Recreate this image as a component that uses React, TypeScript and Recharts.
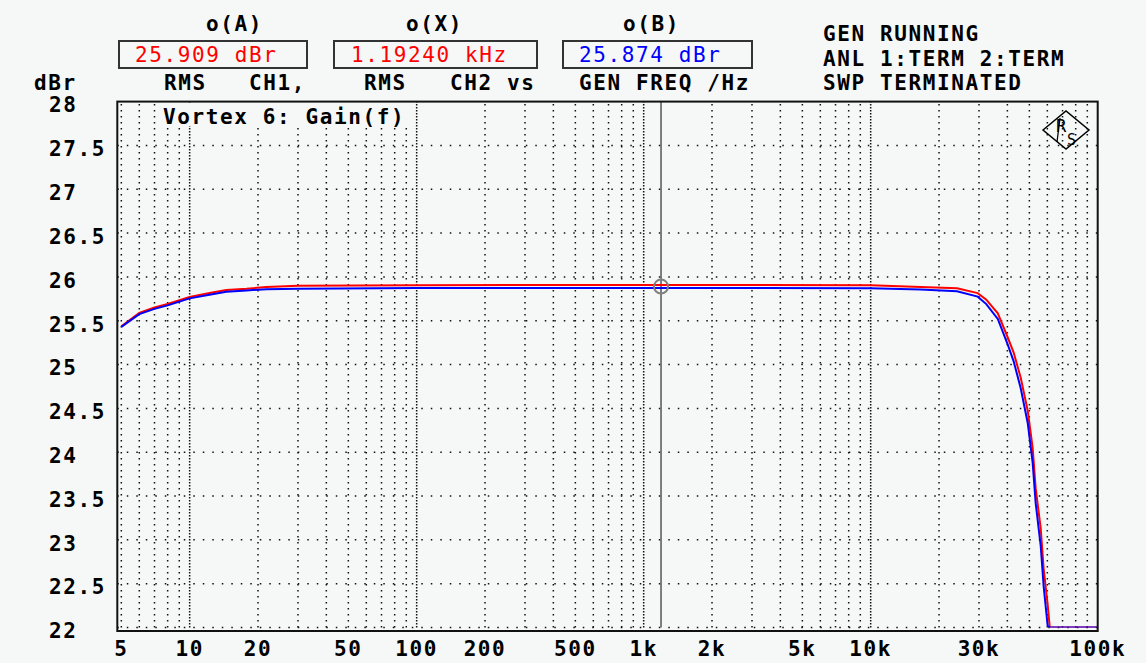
import React from 'react';
import { LineChart, Line, XAxis, YAxis, ReferenceLine, ReferenceDot } from 'recharts';

// ---- data ----
const freqHz = [5, 6, 7, 8, 10, 12.4, 14.5, 17.8, 21.8, 30, 100, 1192.4, 10000, 16600, 24000, 29600, 32300, 36300, 40000, 42600, 45800, 49200, 51700, 53300, 56100, 57800, 60200, 61500, 100000];
const gainCh1 = [25.435, 25.59, 25.65, 25.69, 25.77, 25.82, 25.85, 25.865, 25.885, 25.9, 25.905, 25.909, 25.905, 25.885, 25.87, 25.815, 25.74, 25.585, 25.32, 25.14, 24.85, 24.47, 24.05, 23.59, 23.13, 22.67, 22.26, 22.0, 22.0];
const gainCh2 = [25.43, 25.575, 25.635, 25.675, 25.755, 25.8, 25.83, 25.845, 25.86, 25.865, 25.872, 25.874, 25.87, 25.855, 25.835, 25.775, 25.69, 25.52, 25.24, 25.04, 24.73, 24.33, 23.88, 23.42, 22.93, 22.47, 22.02, 22.0, 22.0];

const xTickValues = [5, 10, 20, 50, 100, 200, 500, 1000, 2000, 5000, 10000, 30000, 100000];
const xTickLabels = ['5', '10', '20', '50', '100', '200', '500', '1k', '2k', '5k', '10k', '30k', '100k'];
const yTickValues = [22, 22.5, 23, 23.5, 24, 24.5, 25, 25.5, 26, 26.5, 27, 27.5, 28];
const yTickLabels = ['22', '22.5', '23', '23.5', '24', '24.5', '25', '25.5', '26', '26.5', '27', '27.5', '28'];

const gridMinorHz = [5, 6, 7, 8, 9, 20, 30, 40, 50, 60, 70, 80, 90, 200, 300, 400, 500, 600, 700, 800, 900, 2000, 3000, 4000, 5000, 6000, 7000, 8000, 9000, 20000, 30000, 40000, 50000, 60000, 70000, 80000, 90000];
const gridDecadeHz = [10, 100, 1000, 10000];
const gridDb = [22, 22.5, 23, 23.5, 24, 24.5, 25, 25.5, 26, 26.5, 27, 27.5];

const cursorHz = 1192.4;
const cursorDb = 25.89;

const readingA = '25.909 dBr';
const readingX = '1.19240 kHz';
const readingB = '25.874 dBr';

const data = freqHz.map((f, i) => ({ f, ch1: gainCh1[i], ch2: gainCh2[i] }));

const FONT = '"DejaVu Sans Mono", "Liberation Mono", monospace';
const BG = '#f5f8f6';
const txt = { fontFamily: FONT, fontSize: 21, fontWeight: 700 as const, letterSpacing: 1.6, fill: '#000' };

const XTick = (props: any) => {
  const { x, payload } = props;
  const i = xTickValues.indexOf(payload.value);
  return (
    <text x={x} y={655.5} textAnchor="middle" style={txt}>
      {i >= 0 ? xTickLabels[i] : ''}
    </text>
  );
};

const YTick = (props: any) => {
  const { y, payload } = props;
  const i = yTickValues.indexOf(payload.value);
  return (
    <text x={49} y={y + 10.8} textAnchor="start" style={txt}>
      {i >= 0 ? yTickLabels[i] : ''}
    </text>
  );
};

const CursorMark = (props: any) => {
  const { cx, cy } = props;
  return (
    <g>
      <circle cx={cx} cy={cy} r={7} fill="none" stroke="#808080" strokeWidth={2} />
    </g>
  );
};

export default function App() {
  return (
    <div style={{ position: 'absolute', left: 0, top: 0, width: 1146, height: 663, background: BG, overflow: 'hidden' }}>
      <LineChart
        width={1146}
        height={663}
        data={data}
        margin={{ top: 101.6, right: 48.3, left: 0, bottom: 0 }}
      >
        <XAxis
          dataKey="f"
          type="number"
          scale="log"
          domain={[4.8, 100000]}
          allowDataOverflow
          ticks={xTickValues}
          interval={0}
          tick={<XTick />}
          axisLine={false}
          tickLine={false}
          height={35.5}
        />
        <YAxis
          type="number"
          domain={[22, 28]}
          allowDataOverflow
          ticks={yTickValues}
          interval={0}
          tick={<YTick />}
          axisLine={false}
          tickLine={false}
          width={117.3}
        />
        {gridMinorHz.map((f) => (
          <ReferenceLine key={'vm' + f} x={f} stroke="#111" strokeWidth={1.5} strokeDasharray="1.5 4.5" />
        ))}
        {gridDecadeHz.map((f) => (
          <ReferenceLine key={'vd' + f} x={f} stroke="#111" strokeWidth={1.5} strokeDasharray="1.5 1.5" />
        ))}
        {gridDb.map((d) => (
          <ReferenceLine key={'h' + d} y={d} stroke="#111" strokeWidth={1.5} strokeDasharray="1.5 8" />
        ))}
        <ReferenceLine x={cursorHz} stroke="#555" strokeWidth={1.5} />
        <Line dataKey="ch1" type="linear" stroke="#ff0000" strokeWidth={2} dot={false} isAnimationActive={false} />
        <Line dataKey="ch2" type="linear" stroke="#0000ff" strokeWidth={2} dot={false} isAnimationActive={false} />
        <ReferenceDot x={cursorHz} y={cursorDb} r={7} shape={<CursorMark />} />
      </LineChart>
      <svg width={1146} height={663} style={{ position: 'absolute', left: 0, top: 0, pointerEvents: 'none' }}>
        {/* plot frame */}
        <rect x={117.3} y={101.6} width={980.4} height={529.4} fill="none" stroke="#111" strokeWidth={2} />
        {/* title */}
        <rect x={160} y={103} width={250} height={23} fill={BG} />
        <text x={163} y={123.6} style={txt}>Vortex 6: Gain(f)</text>
        {/* header */}
        <text x={206} y={30.6} style={txt}>o(A)</text>
        <text x={406} y={30.6} style={txt}>o(X)</text>
        <text x={623} y={30.6} style={txt}>o(B)</text>
        <rect x={119} y={41} width={188} height={27} fill="none" stroke="#333" strokeWidth={2} />
        <rect x={334} y={41} width={203} height={27} fill="none" stroke="#333" strokeWidth={2} />
        <rect x={563} y={41} width={189} height={27} fill="none" stroke="#333" strokeWidth={2} />
        <text x={135} y={61.8} style={{ ...txt, fontWeight: 400, fill: '#ff0000' }}>{readingA}</text>
        <text x={351} y={61.8} style={{ ...txt, fontWeight: 400, fill: '#ff0000' }}>{readingX}</text>
        <text x={579} y={61.8} style={{ ...txt, fontWeight: 400, fill: '#0000ff' }}>{readingB}</text>
        <text x={34} y={89.6} style={txt}>dBr</text>
        <text x={164} y={89.6} style={txt}>RMS</text>
        <text x={249} y={89.6} style={txt}>CH1,</text>
        <text x={364} y={89.6} style={txt}>RMS</text>
        <text x={450} y={89.6} style={txt}>CH2 vs</text>
        <text x={579} y={89.6} style={txt}>GEN FREQ /Hz</text>
        <text x={823} y={40.6} style={txt}>GEN RUNNING</text>
        <text x={823} y={65.6} style={txt}>ANL 1:TERM 2:TERM</text>
        <text x={823} y={89.6} style={txt}>SWP TERMINATED</text>
        {/* R&S logo */}
        <polygon points="1043,130 1066,111 1089,130 1066,149" fill="none" stroke="#000" strokeWidth={1.5} />
        <text x={1056} y={132} style={{ fontFamily: FONT, fontSize: 17, fill: '#000' }}>R</text>
        <text x={1067} y={145} style={{ fontFamily: FONT, fontSize: 15, fill: '#000' }}>S</text>
        <line x1={1060} y1={118} x2={1057} y2={142} stroke="#000" strokeWidth={1.3} />
      </svg>
    </div>
  );
}
